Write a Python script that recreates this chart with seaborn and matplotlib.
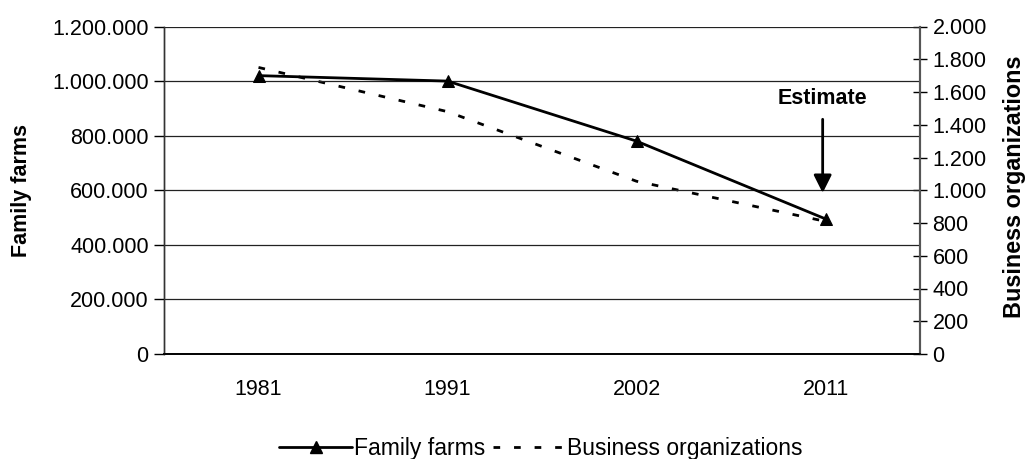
import numpy as np
import pandas as pd
import matplotlib
matplotlib.use("Agg")
import matplotlib.pyplot as plt
from matplotlib.ticker import FuncFormatter, FixedLocator
from matplotlib.lines import Line2D
import seaborn as sns

years = ["1981", "1991", "2002", "2011"]
family_farms = [1020000, 1000000, 780000, 495000]
business_orgs = [1750, 1480, 1055, 810]

sns.set_theme(style="white")
plt.rcParams["font.family"] = ["Liberation Sans", "DejaVu Sans"]
plt.rcParams["text.color"] = "black"
plt.rcParams["axes.labelcolor"] = "black"
FS = 15.5

df = pd.DataFrame({
    "pos": np.arange(len(years)),
    "year": years,
    "family": family_farms,
    "business": business_orgs,
})

fig = plt.figure(figsize=(10.28, 4.59), dpi=100)
ax = fig.add_axes([164 / 1028, 1 - 354 / 459, (920 - 164) / 1028, (354 - 26.5) / 459])
ax2 = ax.twinx()

dash = (2.4, 5.0)
sns.lineplot(data=df, x="pos", y="business", ax=ax2, color="black", lw=2.0,
             linestyle=(0, dash), legend=False, zorder=3)
sns.lineplot(data=df, x="pos", y="family", ax=ax, color="black", lw=2.0,
             marker="^", markersize=9, markeredgecolor="black", legend=False, zorder=4)

# solid series drawn above the dashed one
ax.set_zorder(ax2.get_zorder() + 1)
ax.patch.set_visible(False)

dot_fmt = FuncFormatter(lambda v, p: f"{int(round(v)):,}".replace(",", "."))

ax.set_xlim(-0.5, 3.5)
ax.set_ylim(0, 1200000)
ax.set_yticks(np.arange(0, 1200001, 200000))
ax.yaxis.set_major_formatter(dot_fmt)
ax2.set_ylim(0, 2000)
ax2.set_yticks(np.arange(0, 2001, 200))
ax2.yaxis.set_major_formatter(dot_fmt)

ax.set_xticks(df["pos"])
ax.set_xticklabels(years)
ax.xaxis.set_minor_locator(FixedLocator(np.arange(-0.5, 3.6, 1.0)))
ax.tick_params(axis="x", which="major", length=0, pad=18, labelsize=FS, colors="black")
ax.tick_params(axis="x", which="minor", length=7, width=1, direction="out", color="black")
ax.tick_params(axis="y", which="major", length=7, width=1, direction="out", pad=4,
               labelsize=FS, left=True, colors="black")
ax2.tick_params(axis="y", which="major", length=10, width=1, direction="inout", pad=4,
                labelsize=FS, right=True, colors="black")

ax.grid(False)
ax2.grid(False)
for v in ax.get_yticks():
    ax.axhline(v, color="#222222", lw=0.9, zorder=0)

for a in (ax, ax2):
    a.spines["top"].set_visible(False)
    a.spines["left"].set_color("#333333")
    a.spines["right"].set_color("#555555")
    a.spines["bottom"].set_color("black")
    a.spines["left"].set_linewidth(1.0)
    a.spines["right"].set_linewidth(1.5)
    a.spines["bottom"].set_linewidth(1.2)

ax.set_xlabel("")
ax.set_ylabel("Family farms", fontsize=FS, fontweight="bold", color="black")
ax2.set_ylabel("Business organizations", fontsize=16.8, fontweight="bold", color="black")
ax.yaxis.set_label_coords(-0.1746, 0.5)
ax2.yaxis.set_label_coords(1.110, 0.51)

ax.annotate("", xy=(2.985, 590000), xytext=(2.985, 860000),
            arrowprops=dict(arrowstyle="-|>,head_length=0.9,head_width=0.45",
                            color="black", lw=2.0, shrinkA=0, shrinkB=0), zorder=6)
ax.text(2.985, 935000, "Estimate", ha="center", va="center", fontsize=FS,
        fontweight="bold", color="black", zorder=6)

handles = [
    Line2D([], [], color="black", lw=2.0, marker="^", markersize=9),
    Line2D([], [], color="black", lw=2.0, linestyle=(0, dash)),
]
leg = fig.legend(handles, ["Family farms", "Business organizations"], loc="center",
                 bbox_to_anchor=(541 / 1028, 1 - 449 / 459), ncol=2, frameon=False,
                 fontsize=16.5, handlelength=3.2, handletextpad=0.05, columnspacing=0.35,
                 borderpad=0, borderaxespad=0)
for t in leg.get_texts():
    t.set_color("black")

fig.savefig("out.png", dpi=100, facecolor="white")
